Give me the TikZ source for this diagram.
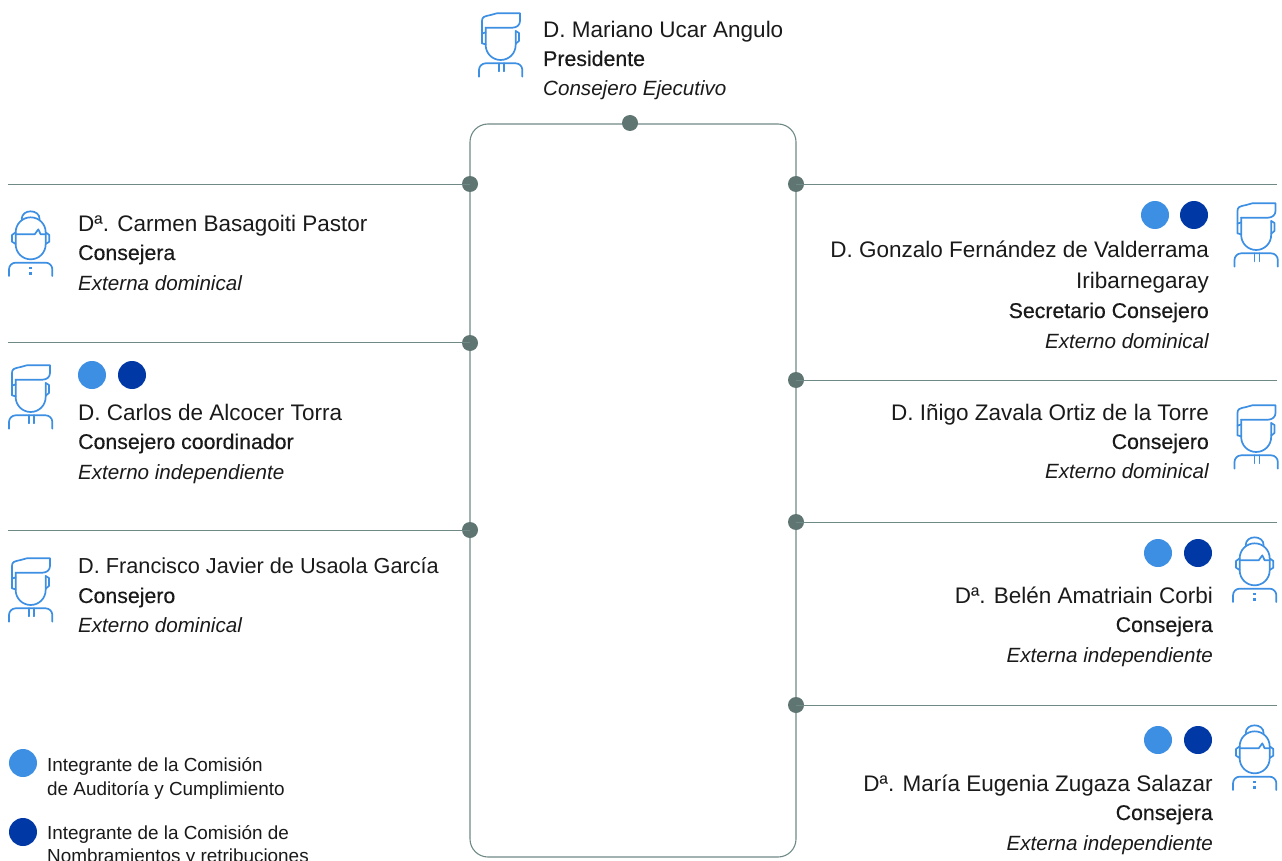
\documentclass[tikz,border=0pt]{standalone}
\usepackage{fontspec}
\setmainfont{Liberation Sans}
\newfontfamily\medfont[FakeBold=0.35]{Liberation Sans}
\definecolor{ln}{HTML}{6F8A86}
\definecolor{dotc}{HTML}{5E7571}
\definecolor{ico}{HTML}{3D8FE3}
\definecolor{lb}{HTML}{3D8FE3}
\definecolor{db}{HTML}{0039A6}
\definecolor{txt}{HTML}{1A1A1A}
\tikzset{
  x=1pt,y=-1pt,
  conn/.style={draw=ln,line width=1.1pt},
  jdot/.style={circle,fill=dotc,inner sep=0pt,minimum size=16pt},
  lbdot/.style={circle,fill=lb,inner sep=0pt,minimum size=28pt},
  dbdot/.style={circle,fill=db,inner sep=0pt,minimum size=28pt},
  tl/.style={anchor=base west,inner sep=0pt,text=txt,font=\fontsize{22.5}{24}\selectfont},
  tr/.style={anchor=base east,inner sep=0pt,text=txt,font=\fontsize{22.5}{24}\selectfont},
  tlb/.style={tl,font=\fontsize{21.3}{24}\medfont},
  trb/.style={tr,font=\fontsize{21.3}{24}\medfont},
  tli/.style={tl,font=\fontsize{20.6}{24}\itshape},
  tri/.style={tr,font=\fontsize{20.6}{24}\itshape},
  leg/.style={anchor=base west,inner sep=0pt,text=txt,font=\fontsize{18.9}{20}\selectfont},
  icon/.style={draw=ico,line width=1.7pt,line cap=round,line join=round,x=0.3333pt,y=-0.3333pt},
}
\newcommand{\manicon}[2]{%
 \begin{scope}[shift={(#1,#2)},icon]
  \draw (36,115) -- (36,48) .. controls (36,36) and (42,34) .. (62,30) -- (80,25) -- (150,25) -- (150,48) .. controls (150,60) and (140,68) .. (128,68) -- (47,68);
  \draw (47,68) -- (47,120) .. controls (47,145) and (67,165) .. (92,165) .. controls (117,165) and (137,145) .. (137,120) -- (137,78);
  \draw (47,82) -- (36,86);
  \draw (47,118) -- (36,115);
  \draw (137,78) -- (147,84) -- (147,108) -- (137,116);
  \draw (27,215) -- (27,195) .. controls (27,184) and (36,175) .. (47,175) -- (137,175) .. controls (148,175) and (157,184) .. (157,195) -- (157,215);
  \draw (87,175) -- (87,199);
  \draw (102,175) -- (102,199);
 \end{scope}}
\newcommand{\womanicon}[2]{%
 \begin{scope}[shift={(#1,#2)},icon]
  \draw (47,97) .. controls (47,72) and (67,52) .. (92,52) .. controls (117,52) and (137,72) .. (137,97) -- (137,133) .. controls (137,158) and (117,178) .. (92,178) .. controls (67,178) and (47,158) .. (47,133) -- cycle;
  \draw (65,58) .. controls (65,42) and (78,34) .. (92,34) .. controls (106,34) and (119,42) .. (119,58);
  \draw (47,103) -- (104,103) -- (115,88) -- (122,103) -- (137,103);
  \draw (47,97) -- (36,105) -- (36,125) -- (47,132);
  \draw (137,97) -- (148,105) -- (148,125) -- (137,132);
  \draw (27,228) -- (27,208) .. controls (27,197) and (36,188) .. (47,188) -- (137,188) .. controls (148,188) and (157,197) .. (157,208) -- (157,228);
  \fill[ico] (88,200) rectangle (96,208);
  \fill[ico] (88,216) rectangle (96,224);
 \end{scope}}
\begin{document}
\begin{tikzpicture}
\useasboundingbox (0,0) rectangle (1282,861);
\fill[white] (0,0) rectangle (1282,861);
% frame
\draw[conn,rounded corners=18pt] (470,124) rectangle (796,857);
% junctions
\node[jdot] (jt) at (630,123) {};
\node[jdot] (jl1) at (470,184) {};
\node[jdot] (jl2) at (470,343) {};
\node[jdot] (jl3) at (470,530) {};
\node[jdot] (jr1) at (796,184) {};
\node[jdot] (jr2) at (796,380) {};
\node[jdot] (jr3) at (796,522) {};
\node[jdot] (jr4) at (796,705) {};
\coordinate (el1) at (8,184.5);
\coordinate (el2) at (8,342.5);
\coordinate (el3) at (8,530.5);
\coordinate (er1) at (1277,184.5);
\coordinate (er2) at (1277,380.5);
\coordinate (er3) at (1277,522.5);
\coordinate (er4) at (1277,705.5);
\draw[conn] (el1) -- (el1-|jl1);
\draw[conn] (el2) -- (el2-|jl2);
\draw[conn] (el3) -- (el3-|jl3);
\draw[conn] (er1) -- (er1-|jr1);
\draw[conn] (er2) -- (er2-|jr2);
\draw[conn] (er3) -- (er3-|jr3);
\draw[conn] (er4) -- (er4-|jr4);
% icons
\manicon{470}{5}
\womanicon{0}{200}
\manicon{0}{357}
\manicon{0}{550}
\manicon{1225.5}{195}
\manicon{1225.5}{397}
\womanicon{1224}{526}
\womanicon{1224}{714}
% dots
\node[lbdot] (a1) at (1155,215) {};
\node[dbdot] (b1) at (1194,215) {};
\node[lbdot] (a2) at (92,375) {};
\node[dbdot] (b2) at (132,375) {};
\node[lbdot] (a3) at (1158,553) {};
\node[dbdot] (b3) at (1198,553) {};
\node[lbdot] (a4) at (1158,740) {};
\node[dbdot] (b4) at (1198,740) {};
\node[lbdot] (a5) at (23,763) {};
\node[dbdot] (b5) at (23,832) {};
% text
\node[tl] (t1) at (543,38) {D. Mariano Ucar Angulo};
\node[tlb] (t2) at (543,66) {Presidente};
\node[tli] (t3) at (543,96) {Consejero Ejecutivo};
\node[tl] (c1) at (78,231) {Dª. Carmen Basagoiti Pastor};
\node[tlb] (c2) at (78,260) {Consejera};
\node[tli] (c3) at (78,290) {Externa dominical};
\node[tl] (d1) at (78,420) {D. Carlos de Alcocer Torra};
\node[tlb] (d2) at (78,449) {Consejero coordinador};
\node[tli] (d3) at (78,479) {Externo independiente};
\node[tl,font=\fontsize{21.7}{24}\selectfont] (e1) at (78,573) {D. Francisco Javier de Usaola García};
\node[tlb] (e2) at (78,603) {Consejero};
\node[tli] (e3) at (78,632) {Externo dominical};
\node[tr] (f1) at (1209,258) {D. Gonzalo Fernández de Valderrama};
\node[tr] (f2) at (1209,288) {Iribarnegaray};
\node[trb] (f3) at (1209,318) {Secretario Consejero};
\node[tri] (f4) at (1209,348) {Externo dominical};
\node[tr] (g1) at (1209,420) {D. Iñigo Zavala Ortiz de la Torre};
\node[trb] (g2) at (1209,449) {Consejero};
\node[tri] (g3) at (1209,478) {Externo dominical};
\node[tr] (h1) at (1213,603) {Dª. Belén Amatriain Corbi};
\node[trb] (h2) at (1213,632) {Consejera};
\node[tri] (h3) at (1213,662) {Externa independiente};
\node[tr] (i1) at (1213,791) {Dª. María Eugenia Zugaza Salazar};
\node[trb] (i2) at (1213,820) {Consejera};
\node[tri] (i3) at (1213,850) {Externa independiente};
\node[leg] (l1) at (47,771) {Integrante de la Comisión};
\node[leg] (l2) at (47,795) {de Auditoría y Cumplimiento};
\node[leg] (l3) at (47,839) {Integrante de la Comisión de};
\node[leg] (l4) at (47,862) {Nombramientos y retribuciones};
\end{tikzpicture}
\end{document}
